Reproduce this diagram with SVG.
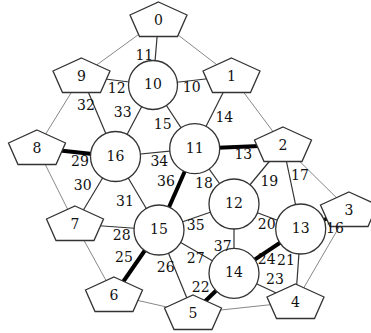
<svg xmlns="http://www.w3.org/2000/svg" xmlns:xlink="http://www.w3.org/1999/xlink" width="371" height="333" viewBox="0 0 371 333">
<style>
.n{fill:#fff;stroke:#333;stroke-width:1.3}
.e{stroke:#333;stroke-width:1.2;fill:none}
.t{stroke:#888;stroke-width:1;fill:none}
.k{stroke:#000;stroke-width:4;fill:none}
text{font-family:"DejaVu Serif",serif;font-size:14px;fill:#111;text-anchor:middle}
</style>
<defs>
<polygon id="pent" points="0,-18 28.5,-5 19,16.5 -19,16.5 -28.5,-5"/>
</defs>
<rect width="371" height="333" fill="#fff"/>
<g id="edges">
<line class="t" x1="158.5" y1="20" x2="81.5" y2="76"/>
<line class="t" x1="158.5" y1="20" x2="231.5" y2="76"/>
<line class="t" x1="231.5" y1="76" x2="283" y2="145"/>
<line class="t" x1="283" y1="145" x2="349" y2="210"/>
<line class="t" x1="349" y1="210" x2="295.5" y2="302"/>
<line class="t" x1="295.5" y1="302" x2="193" y2="313"/>
<line class="t" x1="193" y1="313" x2="114" y2="295"/>
<line class="t" x1="114" y1="295" x2="75" y2="224"/>
<line class="t" x1="75" y1="224" x2="37" y2="148"/>
<line class="t" x1="37" y1="148" x2="81.5" y2="76"/>
<line class="e" x1="158.5" y1="20" x2="153" y2="85"/>
<line class="e" x1="231.5" y1="76" x2="153" y2="85"/>
<line class="e" x1="81.5" y1="76" x2="153" y2="85"/>
<line class="e" x1="231.5" y1="76" x2="194.7" y2="148.7"/>
<line class="e" x1="153" y1="85" x2="194.7" y2="148.7"/>
<line class="e" x1="153" y1="85" x2="115.5" y2="156.5"/>
<line class="e" x1="81.5" y1="76" x2="115.5" y2="156.5"/>
<line class="e" x1="194.7" y1="148.7" x2="115.5" y2="156.5"/>
<line class="e" x1="283" y1="145" x2="234" y2="204"/>
<line class="e" x1="283" y1="145" x2="300.7" y2="229"/>
<line class="e" x1="194.7" y1="148.7" x2="234" y2="204"/>
<line class="e" x1="115.5" y1="156.5" x2="75" y2="224"/>
<line class="e" x1="115.5" y1="156.5" x2="159" y2="230"/>
<line class="e" x1="75" y1="224" x2="159" y2="230"/>
<line class="e" x1="159" y1="230" x2="234" y2="204"/>
<line class="e" x1="234" y1="204" x2="300.7" y2="229"/>
<line class="e" x1="234" y1="204" x2="234" y2="273.3"/>
<line class="e" x1="300.7" y1="229" x2="295.5" y2="302"/>
<line class="e" x1="234" y1="273.3" x2="295.5" y2="302"/>
<line class="e" x1="159" y1="230" x2="234" y2="273.3"/>
<line class="e" x1="159" y1="230" x2="193" y2="313"/>
<line class="k" x1="194.7" y1="148.7" x2="283" y2="145"/>
<line class="k" x1="37" y1="148" x2="115.5" y2="156.5"/>
<line class="k" x1="194.7" y1="148.7" x2="159" y2="230"/>
<line class="k" x1="349" y1="210" x2="300.7" y2="229"/>
<line class="k" x1="300.7" y1="229" x2="234" y2="273.3"/>
<line class="k" x1="159" y1="230" x2="114" y2="295"/>
<line class="k" x1="234" y1="273.3" x2="193" y2="313"/>
</g>
<g id="node0"><use xlink:href="#pent" class="n" x="158.5" y="20"/><text x="158.5" y="24.5">0</text></g>
<g id="node1"><use xlink:href="#pent" class="n" x="231.5" y="76"/><text x="231.5" y="80.5">1</text></g>
<g id="node2"><use xlink:href="#pent" class="n" x="283" y="145"/><text x="283" y="149.5">2</text></g>
<g id="node3"><use xlink:href="#pent" class="n" x="349" y="210"/><text x="349" y="214.5">3</text></g>
<g id="node4"><use xlink:href="#pent" class="n" x="295.5" y="302"/><text x="295.5" y="306.5">4</text></g>
<g id="node5"><use xlink:href="#pent" class="n" x="193" y="313"/><text x="193" y="317.5">5</text></g>
<g id="node6"><use xlink:href="#pent" class="n" x="114" y="295"/><text x="114" y="299.5">6</text></g>
<g id="node7"><use xlink:href="#pent" class="n" x="75" y="224"/><text x="75" y="228.5">7</text></g>
<g id="node8"><use xlink:href="#pent" class="n" x="37" y="148"/><text x="37" y="152.5">8</text></g>
<g id="node9"><use xlink:href="#pent" class="n" x="81.5" y="76"/><text x="81.5" y="80.5">9</text></g>
<g id="node10"><circle class="n" cx="153" cy="85" r="24.5"/><text x="153" y="89">10</text></g>
<g id="node11"><circle class="n" cx="194.7" cy="148.7" r="25"/><text x="194.7" y="152.7">11</text></g>
<g id="node12"><circle class="n" cx="234" cy="204" r="25"/><text x="234" y="208">12</text></g>
<g id="node13"><circle class="n" cx="300.7" cy="229" r="25"/><text x="300.7" y="233">13</text></g>
<g id="node14"><circle class="n" cx="234" cy="273.3" r="25"/><text x="234" y="277.3">14</text></g>
<g id="node15"><circle class="n" cx="159" cy="230" r="25"/><text x="159" y="234">15</text></g>
<g id="node16"><circle class="n" cx="115.5" cy="156.5" r="25"/><text x="115.5" y="160.5">16</text></g>
<g id="edge-labels">
<text x="144.3" y="60">11</text>
<text x="116.7" y="93.3">12</text>
<text x="191.7" y="92.3">10</text>
<text x="86" y="110">32</text>
<text x="122.7" y="116.7">33</text>
<text x="162.7" y="129">15</text>
<text x="224.3" y="121.7">14</text>
<text x="243.3" y="159.3">13</text>
<text x="80" y="166">29</text>
<text x="159.3" y="166">34</text>
<text x="82.7" y="190">30</text>
<text x="166" y="185.7">36</text>
<text x="204" y="188.3">18</text>
<text x="269.3" y="185.7">19</text>
<text x="300" y="180">17</text>
<text x="125" y="205.7">31</text>
<text x="195.7" y="230">35</text>
<text x="266.7" y="229.3">20</text>
<text x="335" y="232.7">16</text>
<text x="121.7" y="240">28</text>
<text x="124" y="261.7">25</text>
<text x="165.7" y="271.7">26</text>
<text x="222.7" y="250.7">37</text>
<text x="195.7" y="263.3">27</text>
<text x="266.7" y="264">24</text>
<text x="286" y="265">21</text>
<text x="275" y="284.3">23</text>
<text x="200.7" y="291.7">22</text>
</g>
</svg>
